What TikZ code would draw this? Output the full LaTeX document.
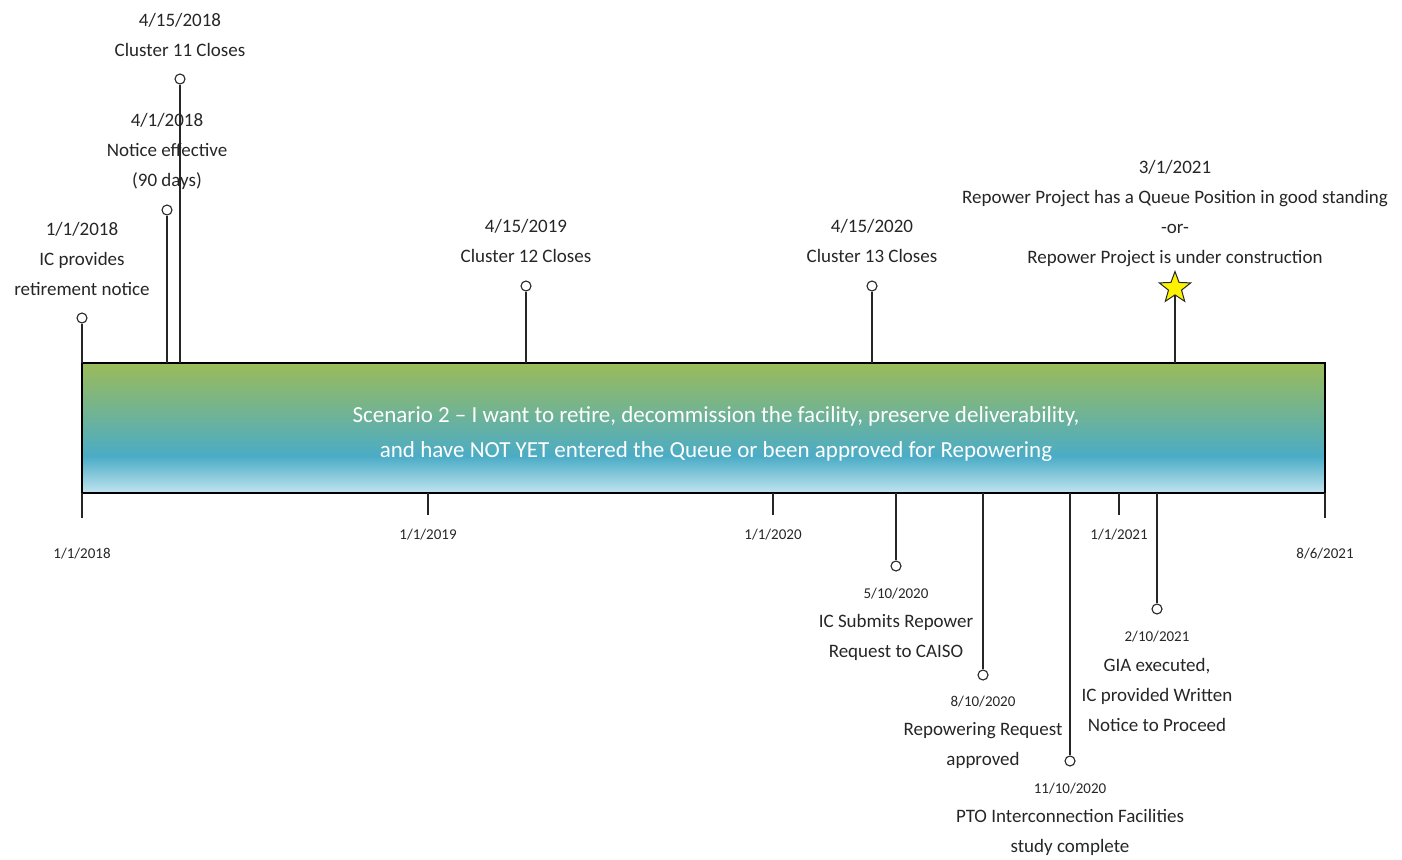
\documentclass[tikz,border=0pt]{standalone}
\usepackage{fontspec}
\setmainfont{Carlito}
\usetikzlibrary{shapes.geometric,positioning}
\definecolor{barg}{HTML}{9BBB59}
\definecolor{barb}{HTML}{4BACC6}
\definecolor{barl}{HTML}{C2E4EF}
\definecolor{ink}{HTML}{262626}
\pgfdeclareverticalshading{barshade}{100bp}{color(0bp)=(barl); color(25bp)=(barl); color(39bp)=(barb); color(75bp)=(barg); color(100bp)=(barg)}
\tikzset{
  dot/.style={circle,draw=ink,fill=white,line width=1.1pt,inner sep=0pt,minimum size=10pt},
  stem/.style={draw=ink,line width=1.3pt},
  lbl/.style={text=ink,align=center,inner sep=0pt,font=\fontsize{19}{30}\selectfont},
  sml/.style={text=ink,inner sep=0pt,font=\fontsize{15}{18}\selectfont},
}
\begin{document}
\begin{tikzpicture}[x=1pt,y=-1pt]
\useasboundingbox (0,0) rectangle (1402,859);
% the bar
\node[draw=black,line width=1.4pt,shading=barshade,minimum width=1243pt,minimum height=130pt,inner sep=0pt] (bar) at (703.5,428) {};
\node[text=white,align=center,inner sep=0pt,font=\fontsize{23}{35}\selectfont] (title) at (716,434)
  {Scenario 2 -- I want to retire, decommission the facility, preserve deliverability,\\and have NOT YET entered the Queue or been approved for Repowering};
% axis ticks
\foreach \x/\y [count=\i] in {82/518,428/515,773/515,1119/515,1325/518}{
  \coordinate (a\i) at (\x,493);
  \coordinate (b\i) at (\x,\y);
  \draw[stem] (a\i)--(b\i);
}
\node[sml] (d1) at (82,554) {1/1/2018};
\node[sml] (d2) at (428,535) {1/1/2019};
\node[sml] (d3) at (773,535) {1/1/2020};
\node[sml] (d4) at (1119,535) {1/1/2021};
\node[sml] (d5) at (1325,554) {8/6/2021};
% events above
\coordinate (u1) at (82,363);
\coordinate (u2) at (167,363);
\coordinate (u3) at (180,363);
\coordinate (u4) at (526,363);
\coordinate (u5) at (872,363);
\coordinate (u6) at (1175,363);
\node[dot] (c1) at (82,318) {};
\node[dot] (c2) at (167,210) {};
\node[dot] (c3) at (180,79) {};
\node[dot] (c4) at (526,286) {};
\node[dot] (c5) at (872,286) {};
\node[star,star points=5,star point ratio=2.4,minimum size=33pt,inner sep=0pt,fill=yellow,draw=ink,line width=1pt] (c6) at (1175,288) {};
\foreach \i in {1,...,6} \draw[stem] (u\i)--(c\i);
\node[lbl] (l1) at (82,259) {1/1/2018\\IC provides\\retirement notice};
\node[lbl] (l2) at (167,151) {4/1/2018\\Notice effective\\(90 days)};
\node[lbl] (l3) at (180,34.5) {4/15/2018\\Cluster 11 Closes};
\node[lbl] (l4) at (526,241) {4/15/2019\\Cluster 12 Closes};
\node[lbl] (l5) at (872,241) {4/15/2020\\Cluster 13 Closes};
\node[lbl] (l6) at (1175,213.5) {3/1/2021\\Repower Project has a Queue Position in good standing\\-or-\\Repower Project is under construction};
% events below
\coordinate (w1) at (896,493);
\coordinate (w2) at (983,493);
\coordinate (w3) at (1070,493);
\coordinate (w4) at (1157,493);
\node[dot] (e1) at (896,566) {};
\node[dot] (e2) at (983,675) {};
\node[dot] (e3) at (1070,761) {};
\node[dot] (e4) at (1157,609) {};
\foreach \i in {1,...,4} \draw[stem] (w\i)--(e\i);
\node[sml] (t1) at (896,594) {5/10/2020};
\node[lbl] (m1) at (896,637) {IC Submits Repower\\Request to CAISO};
\node[sml] (t2) at (983,702) {8/10/2020};
\node[lbl] (m2) at (983,745.5) {Repowering Request\\approved};
\node[sml] (t3) at (1070,789) {11/10/2020};
\node[lbl] (m3) at (1070,832) {PTO Interconnection Facilities\\study complete};
\node[sml] (t4) at (1157,637) {2/10/2021};
\node[lbl] (m4) at (1157,694.5) {GIA executed,\\IC provided Written\\Notice to Proceed};
\end{tikzpicture}
\end{document}
